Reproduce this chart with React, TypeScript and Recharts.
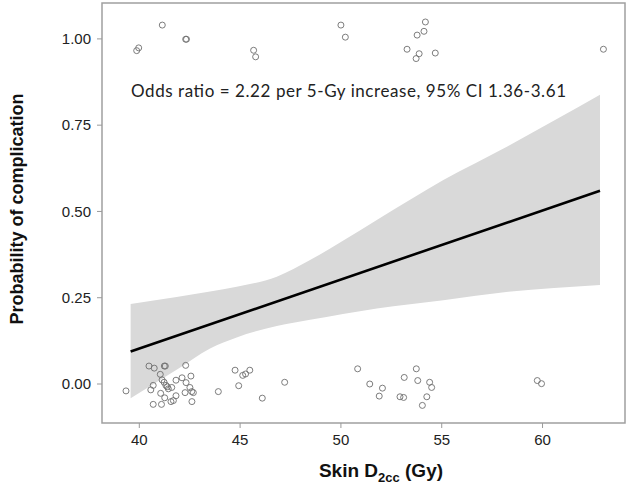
import React from 'react';
import { ComposedChart, Area, Line, Scatter, XAxis, YAxis, ReferenceArea } from 'recharts';

const xDomain = [38.15, 64.09];
const yDomain = [-0.113, 1.104];
const xTicks = [40, 45, 50, 55, 60];
const yTicks = [0, 0.25, 0.5, 0.75, 1];

const bandX = [39.57, 41.85, 43.51, 44.83, 46.82, 48.47, 50.1, 51.78, 55.08, 58.3, 62.85];
const bandLow = [-0.041, 0.041, 0.103, 0.135, 0.168, 0.186, 0.203, 0.219, 0.243, 0.267, 0.287];
const bandHigh = [0.232, 0.252, 0.268, 0.282, 0.311, 0.359, 0.415, 0.475, 0.591, 0.69, 0.838];

const fitX = [39.57, 62.85];
const fitY = [0.094, 0.56];

const eventX = [39.87, 39.97, 41.14, 42.30, 42.34, 45.67, 45.77, 50.0, 50.22, 53.28, 53.73, 53.78, 53.88, 54.12, 54.19, 54.68, 63.02];
const eventY = [0.966, 0.974, 1.04, 0.999, 0.999, 0.967, 0.948, 1.04, 1.005, 0.97, 0.943, 1.011, 0.957, 1.022, 1.049, 0.959, 0.97];

const noEventX = [39.34, 40.48, 40.74, 41.24, 41.29, 42.30, 41.04, 41.13, 41.23, 40.69, 40.57, 41.32, 41.39, 41.44, 41.61, 41.82, 42.12, 42.56, 42.32, 42.51, 42.60, 42.68, 42.27, 41.82, 41.06, 41.26, 40.69, 41.10, 41.57, 41.69, 42.61, 43.92, 44.75, 45.13, 45.27, 45.48, 44.93, 46.10, 47.21, 50.83, 51.43, 52.06, 51.90, 52.93, 53.11, 53.14, 53.74, 53.81, 54.40, 54.50, 54.26, 54.04, 59.74, 59.95];
const noEventY = [-0.02, 0.052, 0.046, 0.052, 0.052, 0.054, 0.028, 0.012, 0.005, -0.004, -0.017, -0.004, -0.008, -0.014, -0.01, 0.011, 0.018, 0.023, 0.004, -0.01, -0.022, -0.025, -0.025, -0.034, -0.027, -0.04, -0.059, -0.059, -0.051, -0.048, -0.051, -0.022, 0.04, 0.025, 0.029, 0.04, -0.005, -0.041, 0.005, 0.044, 0.0, -0.012, -0.035, -0.037, -0.039, 0.019, 0.044, 0.01, 0.005, -0.01, -0.037, -0.062, 0.01, 0.001];

const bandData = bandX.map((x, i) => ({ x, range: [bandLow[i], bandHigh[i]] }));
const fitData = fitX.map((x, i) => ({ x, y: fitY[i] }));
const pointData = [
  ...eventX.map((x, i) => ({ x, y: eventY[i] })),
  ...noEventX.map((x, i) => ({ x, y: noEventY[i] })),
];

const FONT = '"Liberation Sans", Arial, sans-serif';

const OpenCircle = (props: any) => (
  <circle cx={props.cx} cy={props.cy} r={3} fill="none" stroke="#6e6e6e" strokeWidth={0.9} />
);

export default function App() {
  return (
    <div style={{ position: 'absolute', left: 0, top: 0, width: 630, height: 492 }}>
      <ComposedChart width={630} height={492} margin={{ top: 3, right: 5, bottom: 0, left: 0 }}>
        <XAxis
          type="number"
          dataKey="x"
          domain={xDomain}
          ticks={xTicks}
          allowDataOverflow
          height={69}
          axisLine={false}
          tickSize={5}
          tickMargin={6}
          tickLine={{ stroke: '#999' }}
          tick={{ fontSize: 15, fill: '#222', fontFamily: FONT }}
          label={{
            content: () => (
              <text x={381} y={477} textAnchor="middle" fontFamily={FONT} fontWeight="bold" fontSize={19} fill="#111">
                Skin D<tspan fontSize={13} dy={5}>2cc</tspan>
                <tspan dy={-5}> (Gy)</tspan>
              </text>
            ),
          }}
        />
        <YAxis
          type="number"
          domain={yDomain}
          ticks={yTicks}
          allowDataOverflow
          width={102}
          axisLine={false}
          tickSize={5}
          tickMargin={6}
          tickLine={{ stroke: '#999' }}
          tickFormatter={(v: number) => v.toFixed(2)}
          tick={{ fontSize: 15, fill: '#222', fontFamily: FONT }}
          label={{
            content: () => (
              <text
                x={17}
                y={209}
                textAnchor="middle"
                dominantBaseline="central"
                transform="rotate(-90 17 209)"
                fontFamily={FONT}
                fontWeight="bold"
                fontSize={18}
                fill="#111"
              >
                Probability of complication
              </text>
            ),
          }}
        />
        <Area
          data={bandData}
          dataKey="range"
          type="monotone"
          fill="#d9d9d9"
          fillOpacity={1}
          stroke="none"
          isAnimationActive={false}
        />
        <Line data={fitData} dataKey="y" type="linear" stroke="#000" strokeWidth={2.6} dot={false} isAnimationActive={false} />
        <Scatter data={pointData} dataKey="y" shape={OpenCircle} isAnimationActive={false} />
        <ReferenceArea
          x1={xDomain[0]}
          x2={xDomain[1]}
          y1={yDomain[0]}
          y2={yDomain[1]}
          fill="none"
          fillOpacity={0}
          stroke="#a0a0a0"
          strokeWidth={1.5}
        />
      </ComposedChart>
      <svg width={630} height={492} style={{ position: 'absolute', left: 0, top: 0, pointerEvents: 'none' }}>
        <text x={131} y={97} fontFamily="Lato, sans-serif" fontSize={17} fill="#222" textLength={435}>
          Odds ratio = 2.22 per 5-Gy increase, 95% CI 1.36-3.61
        </text>
      </svg>
    </div>
  );
}
